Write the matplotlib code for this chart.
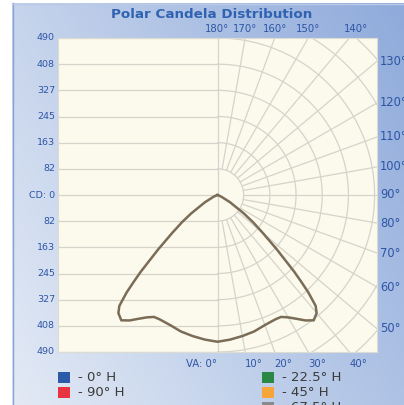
import numpy as np
import matplotlib.pyplot as plt
import matplotlib.colors as mcolors
from matplotlib.patches import Rectangle

# vertical angle (deg from nadir) and candela
va = [0, 5, 10, 15, 20, 25, 27.5, 30, 32.5, 35, 37.5, 40, 41.5, 43, 44, 45, 47.5, 50, 52.5, 55, 60, 65, 70, 80, 90]
cd = [458, 453, 447, 441, 432, 428, 429, 441, 458, 478, 493, 481, 462, 415, 375, 338, 250, 185, 140, 100, 45, 15, 5, 1, 0]

cd_max = 490
left_labels = ['490', '408', '327', '245', '163', '82', 'CD: 0', '82', '163', '245', '327', '408', '490']
top_angles = [180, 170, 160, 150, 140]
bottom_angles = [0, 10, 20, 30, 40]
right_angles = [130, 120, 110, 100, 90, 80, 70, 60, 50]

legend_labels = ['- 0° H', '- 90° H', '- 22.5° H', '- 45° H', '- 67.5° H']
legend_colors = ['#2c5aa8', '#e93340', '#2a8744', '#f5a53a', '#8a8a8a']

W, H = 404, 405
fig = plt.figure(figsize=(W / 100, H / 100), dpi=100)

# background panel with a blue gradient (pixel coords)
bg = fig.add_axes([0, 0, 1, 1])
bg.set_xlim(0, W)
bg.set_ylim(H, 0)
bg.axis('off')
u = np.linspace(0, 1, 200)[None, :, None]
v = np.linspace(0, 1, 200)[:, None, None]
tl, tr, bl, br = [np.array(mcolors.to_rgb(c)) for c in ('#c6d4ec', '#8faadb', '#e3eaf5', '#aec2e5')]
img = (1 - u) * (1 - v) * tl + u * (1 - v) * tr + (1 - u) * v * bl + u * v * br
bg.imshow(img, extent=(12, W, H, 3), aspect='auto')
bg.plot([12.5, 12.5], [3, H], color='#86a2d6', lw=1)
bg.plot([12, W], [3.5, 3.5], color='#b9cae9', lw=1)

# legend
rows = [(0, 0), (0, 1), (1, 0), (1, 1), (1, 2)]
for (col, row), lab, c in zip(rows, legend_labels, legend_colors):
    x0 = 58 if col == 0 else 262
    yc = 377.5 + row * 15
    bg.add_patch(Rectangle((x0, yc - 5.8), 11.7, 11.7, facecolor=c, edgecolor='none'))
    bg.text(x0 + 20, yc, lab, ha='left', va='center', fontsize=9.5, color='#3a3a3a')

bg.text(212, 15, 'Polar Candela Distribution', ha='center', va='center',
        fontsize=9.7, fontweight='bold', color='#2f62b0')

# main plot area
ax = fig.add_axes([58 / W, 1 - 352 / H, 319 / W, 314 / H])
ax.set_facecolor('#fcfaec')
xmax = 497.5
ax.set_xlim(-xmax, xmax)
ax.set_ylim(-cd_max, cd_max)
ax.set_xticks([])
ax.set_yticks([])
for s in ax.spines.values():
    s.set_color('#dcdcd2')
    s.set_linewidth(0.8)

gc = '#d4d4cc'
step = cd_max / 6
# horizontal lines on the left half
for k in range(-6, 7):
    ax.plot([-xmax, 0], [k * step, k * step], color=gc, lw=0.9, zorder=1)
ax.axvline(0, color=gc, lw=0.9, zorder=1)

# polar grid on the right half
th = np.radians(np.linspace(0, 180, 181))
for k in range(1, 9):
    r = k * step
    ax.plot(r * np.sin(th), -r * np.cos(th), color=gc, lw=0.9, zorder=1)
for a in range(10, 180, 10):
    t = np.radians(a)
    ax.plot([step * np.sin(t), 1000 * np.sin(t)], [-step * np.cos(t), -1000 * np.cos(t)],
            color=gc, lw=0.9, zorder=1)

# candela curve, mirrored
t = np.radians(np.array(va, dtype=float))
r = np.array(cd, dtype=float)
xs = np.concatenate([-(r * np.sin(t))[::-1], r * np.sin(t)])
ys = np.concatenate([-(r * np.cos(t))[::-1], -r * np.cos(t)])
ax.plot(xs, ys, color='#7a6c57', lw=1.8, zorder=3, solid_joinstyle='round')

lc = '#2d55a5'
for k, lab in enumerate(left_labels):
    y = cd_max - k * step
    ax.annotate(lab, (-xmax, y), xytext=(-2.2, 0), textcoords='offset points',
                ha='right', va='center', fontsize=6.8, color=lc, annotation_clip=False)

for a in right_angles:
    y = 0 if a == 90 else -xmax / np.tan(np.radians(a))
    ax.annotate(f'{a}°', (xmax, y), xytext=(2.2, 0), textcoords='offset points',
                ha='left', va='center', fontsize=8.3, color=lc, annotation_clip=False)

for a in top_angles:
    x = -cd_max * np.tan(np.radians(a))
    ax.annotate(f'{a}°', (x, cd_max), xytext=(0 if a > 140 else 5, 3), textcoords='offset points',
                ha='center', va='bottom', fontsize=7.3, color=lc, annotation_clip=False)

for a in bottom_angles:
    x = cd_max * np.tan(np.radians(a))
    lab = 'VA: 0°' if a == 0 else f'{a}°'
    ax.annotate(lab, (x, -cd_max), xytext=(0, -5), textcoords='offset points',
                ha='right' if a == 0 else 'left', va='top', fontsize=7.3, color=lc,
                annotation_clip=False)

fig.savefig('out.png', dpi=100)
